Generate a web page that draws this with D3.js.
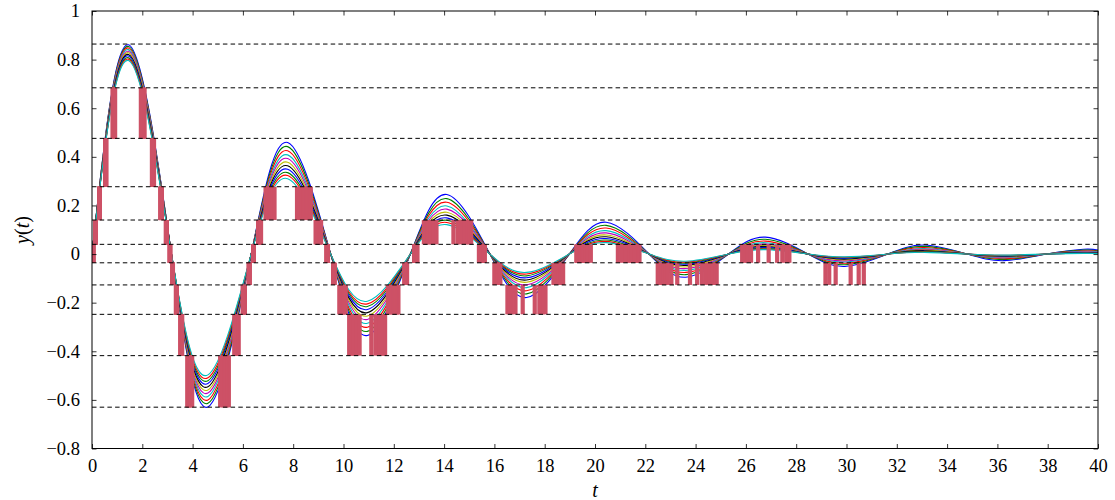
<!DOCTYPE html>
<html><head><meta charset="utf-8">
<script src="https://cdn.jsdelivr.net/npm/d3@7"></script>
<style>
body{margin:0;background:#fff}
svg text{font-family:"Liberation Serif","DejaVu Serif",serif;fill:#000}
</style>
</head><body>
<svg id="c" width="1115" height="500"></svg>
<script>
// ---------- data ----------
const xTicks = [0,2,4,6,8,10,12,14,16,18,20,22,24,26,28,30,32,34,36,38,40];
const yTicks = [-0.8,-0.6,-0.4,-0.2,0,0.2,0.4,0.6,0.8,1];
const levels = [-0.630,-0.418,-0.248,-0.127,-0.036,0.040,0.140,0.277,0.476,0.684,0.864];
// zero crossings and extremum times
const zeroT = [0,3.16,6.33,9.49,12.66,15.82,18.98,22.15,25.31,28.47,31.64,34.80,37.96];
const peakT = [1.45,4.61,7.78,10.95,14.11,17.28,20.44,23.61,26.77,29.93,33.10,36.26,39.42];
const endT = 40;
// extremum values of each curve (outermost to innermost)
const ext1  = [0.861,-0.629,0.459,-0.335,0.245,-0.179,0.131,-0.0955,0.0697,-0.0509,0.0372,-0.0272,0.0198];
const ext2  = [0.854,-0.614,0.442,-0.318,0.228,-0.164,0.118,-0.0848,0.0610,-0.0439,0.0315,-0.0227,0.0163];
const ext3  = [0.848,-0.600,0.425,-0.301,0.213,-0.151,0.107,-0.0754,0.0534,-0.0378,0.0267,-0.0189,0.0134];
const ext4  = [0.841,-0.586,0.408,-0.285,0.198,-0.138,0.0963,-0.0671,0.0467,-0.0326,0.0227,-0.0158,0.0110];
const ext5  = [0.834,-0.572,0.393,-0.269,0.185,-0.127,0.0870,-0.0597,0.0409,-0.0281,0.0193,-0.0132,0.0091];
const ext6  = [0.828,-0.559,0.378,-0.255,0.172,-0.116,0.0785,-0.0530,0.0358,-0.0242,0.0163,-0.0110,0.0074];
const ext7  = [0.821,-0.546,0.363,-0.241,0.160,-0.107,0.0709,-0.0471,0.0313,-0.0208,0.0139,-0.0092,0.0061];
const ext8  = [0.815,-0.533,0.349,-0.228,0.149,-0.0977,0.0639,-0.0418,0.0274,-0.0179,0.0117,-0.0077,0.0050];
const ext9  = [0.808,-0.521,0.335,-0.216,0.139,-0.0896,0.0577,-0.0372,0.0240,-0.0154,0.0099,-0.0064,0.0041];
const ext10 = [0.802,-0.509,0.323,-0.205,0.130,-0.0822,0.0521,-0.0331,0.0210,-0.0133,0.0084,-0.0053,0.0034];
const ext11 = [0.796,-0.497,0.310,-0.194,0.121,-0.0754,0.0471,-0.0294,0.0183,-0.0115,0.0071,-0.0045,0.0028];
const yEnd  = [0.0165,0.0135,0.0111,0.0091,0.0074,0.0061,0.0050,0.0041,0.0033,0.0027,0.0022];
const colors = ["#0000ff","#008000","#ff0000","#00bfbf","#bf00bf","#bfbf00","#000000","#0000ff","#008000","#ff0000","#00bfbf"];
const barColor = "#cd5166";

const curves = [ext1,ext2,ext3,ext4,ext5,ext6,ext7,ext8,ext9,ext10,ext11];

// ---------- layout ----------
const L = 92, R = 1098, T = 11, B = 448.5;
const x = d3.scaleLinear().domain([0,40]).range([L,R]);
const y = d3.scaleLinear().domain([-0.8,1]).range([B,T]);
const svg = d3.select("#c");
svg.append("defs").append("clipPath").attr("id","clip")
  .append("rect").attr("x",L).attr("y",T).attr("width",R-L).attr("height",B-T);
const plot = svg.append("g").attr("clip-path","url(#clip)");

const knots = (ext,end) => {
  const pts = [];
  for (let k=0;k<ext.length;k++){ pts.push([zeroT[k],0]); pts.push([peakT[k],ext[k]]); }
  pts.push([endT,end]);
  return pts;
};
const line = d3.line().x(d=>x(d[0])).y(d=>y(d[1])).curve(d3.curveNatural);

// curves
const bars = [];
curves.forEach((ext,i)=>{
  const pts = knots(ext,yEnd[i]);
  plot.append("path").attr("d",line(pts)).attr("fill","none")
    .attr("stroke",colors[i]).attr("stroke-width",1.1);
  // record drawn segments to find level crossings of the drawn curve
  const segs=[]; let cur=null;
  const ctx={moveTo(a,b){cur=[a,b];},lineTo(a,b){segs.push([cur,cur,[a,b],[a,b]]);cur=[a,b];},
    bezierCurveTo(a,b,c,d,e,f){segs.push([cur,[a,b],[c,d],[e,f]]);cur=[e,f];},closePath(){}};
  d3.line().x(d=>x(d[0])).y(d=>y(d[1])).curve(d3.curveNatural).context(ctx)(pts);
  let prev=null;
  segs.forEach(s=>{
    for(let j=0;j<=200;j++){
      const u=j/200, v=1-u;
      const w0=v*v*v,w1=3*v*v*u,w2=3*v*u*u,w3=u*u*u;
      const p=[w0*s[0][0]+w1*s[1][0]+w2*s[2][0]+w3*s[3][0], w0*s[0][1]+w1*s[1][1]+w2*s[2][1]+w3*s[3][1]];
      if(prev){
        levels.forEach((lv,k)=>{
          const ly=y(lv);
          if((prev[1]-ly)*(p[1]-ly)<0){
            const cx=prev[0]+(p[0]-prev[0])*(ly-prev[1])/(p[1]-prev[1]);
            bars.push({cx,k});
          }
        });
      }
      prev=p;
    }
  });
});

// quantisation bars
const bw = 4.2;
plot.selectAll("rect.bar").data(bars.filter(b=>b.k>0)).enter().append("rect")
  .attr("class","bar")
  .attr("x",d=>d.cx-bw/2).attr("width",bw)
  .attr("y",d=>y(levels[d.k]))
  .attr("height",d=>y(levels[d.k-1])-y(levels[d.k]))
  .attr("fill",barColor);

// dashed levels
plot.selectAll("line.lv").data(levels).enter().append("line")
  .attr("x1",L).attr("x2",R).attr("y1",d=>y(d)).attr("y2",d=>y(d))
  .attr("stroke","#000").attr("stroke-width",1).attr("stroke-dasharray","4.5,3.2");

// axes
const fmt = v => (v<0?"\u2212":"") + String(Math.abs(+v.toFixed(1)));
const tl = 4.5;
const serif = "'Liberation Serif','DejaVu Serif',serif";
const ax = svg.append("g");
ax.append("g").attr("transform",`translate(0,${B})`)
  .call(d3.axisBottom(x).tickValues(xTicks).tickSize(-tl).tickFormat(d=>d).tickPadding(10))
  .call(g=>g.select(".domain").remove());
ax.append("g").attr("transform",`translate(0,${T})`)
  .call(d3.axisTop(x).tickValues(xTicks).tickSize(-tl).tickFormat(""))
  .call(g=>g.select(".domain").remove());
ax.append("g").attr("transform",`translate(${L},0)`)
  .call(d3.axisLeft(y).tickValues(yTicks).tickSize(-tl).tickFormat(fmt).tickPadding(12))
  .call(g=>g.select(".domain").remove());
ax.append("g").attr("transform",`translate(${R},0)`)
  .call(d3.axisRight(y).tickValues(yTicks).tickSize(-tl).tickFormat(""))
  .call(g=>g.select(".domain").remove());
ax.selectAll("g").attr("font-family",null);
ax.selectAll(".tick line").attr("stroke","#000").attr("stroke-width",0.8);
ax.selectAll(".tick text").attr("font-size",18.5).style("font-family",serif).attr("fill","#000");
svg.append("rect").attr("x",L).attr("y",T).attr("width",R-L).attr("height",B-T)
  .attr("fill","none").attr("stroke","#000").attr("stroke-width",1);

// axis labels
svg.append("text").attr("x",(L+R)/2).attr("y",497).attr("text-anchor","middle")
  .style("font-family",serif).attr("font-size",20).attr("font-style","italic").text("t");
const yl = svg.append("text").attr("transform","translate(29,230) rotate(-90)")
  .style("font-family",serif).attr("text-anchor","middle").attr("font-size",20);
yl.append("tspan").attr("font-style","italic").text("y");
yl.append("tspan").text("(");
yl.append("tspan").attr("font-style","italic").text("t");
yl.append("tspan").text(")");
</script>
</body></html>
